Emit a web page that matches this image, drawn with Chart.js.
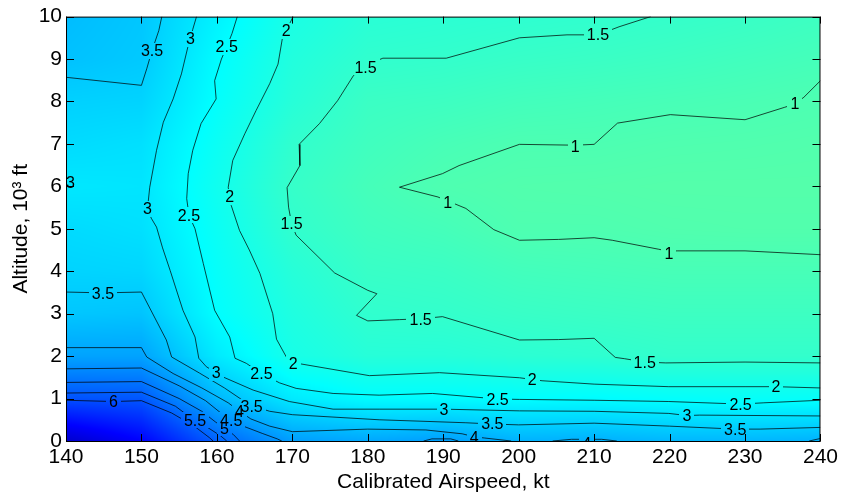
<!DOCTYPE html>
<html lang="en">
<head>
<meta charset="UTF-8">
<title>Altitude vs Calibrated Airspeed contours</title>
<script src="https://cdn.jsdelivr.net/npm/chart.js"></script>
<style>
  body { margin: 0; background: #fff; }
</style>
</head>
<body>
<canvas id="contourChart" width="842" height="496"></canvas>
<script>
// grid of the shaded field (rows = altitude 0..10, cols = airspeed 140..240)
const speeds = [140, 150, 160, 170, 180, 190, 200, 210, 220, 230, 240];
const altitudes = [0, 1, 2, 3, 4, 5, 6, 7, 8, 9, 10];
const field = [
  [8.5, 7.5, 5.6, 4.4, 4.2, 4.4, 4.0, 4.05, 3.9, 3.9, 4.0],
  [5.9, 5.8, 3.9, 2.9, 2.55, 2.55, 2.5, 2.55, 2.45, 2.4, 2.4],
  [4.3, 4.3, 2.9, 2.05, 1.75, 1.75, 1.65, 1.6, 1.5, 1.5, 1.5],
  [3.6, 3.65, 2.5, 1.9, 1.55, 1.5, 1.4, 1.35, 1.3, 1.3, 1.3],
  [3.35, 3.3, 2.4, 1.75, 1.4, 1.35, 1.2, 1.15, 1.1, 1.1, 1.1],
  [3.2, 3.1, 2.3, 1.55, 1.25, 1.15, 0.97, 0.97, 0.92, 0.9, 0.9],
  [2.95, 3.0, 2.2, 1.45, 1.15, 0.97, 0.9, 0.88, 0.85, 0.85, 0.85],
  [3.2, 3.1, 2.3, 1.55, 1.25, 1.1, 1.0, 1.0, 0.95, 0.93, 0.9],
  [3.4, 3.35, 2.45, 1.75, 1.35, 1.3, 1.2, 1.15, 1.1, 1.05, 0.99],
  [3.7, 3.55, 2.55, 1.85, 1.55, 1.5, 1.42, 1.37, 1.3, 1.22, 1.15],
  [3.8, 3.6, 2.75, 2.0, 1.7, 1.65, 1.6, 1.55, 1.48, 1.4, 1.3]
];

// contour lines, [airspeed, altitude]
const line1 = [[240,8.49],[237.8,8.1],[236.6,7.94],[235.2,7.86],[230,7.57],[220.1,7.69],[213.1,7.49],[210,6.99],[207.5,6.97],[200.1,6.99],[192.1,6.49],[189.9,6.3],[184.2,5.98],[189.3,5.75],[190.6,5.65],[191.5,5.59],[193,5.48],[196.7,4.98],[200.1,4.73],[205.3,4.75],[210,4.79],[212.4,4.73],[218.5,4.52],[219.9,4.47],[221,4.48],[230,4.48],[240,4.39]];
const line15 = [[217.5,10],[213.3,9.76],[210.5,9.57],[206.4,9.57],[200.1,9.5],[190.4,9.02],[182,9.02],[179.7,8.85],[178.1,8.61],[176,8.02],[173.6,7.48],[170.9,6.99],[171,6.49],[169.3,5.97],[169.5,5.51],[169.9,5.12],[170.5,4.85],[175.6,3.96],[180,3.55],[181.2,3.47],[178.5,2.96],[180,2.83],[184.2,2.86],[187,2.88],[189.9,2.93],[200.1,2.38],[205.3,2.39],[210,2.42],[212.8,1.97],[214,1.94],[216.7,1.86],[219.5,1.84],[230,1.86],[240,1.84]];
const line2 = [[170.1,10],[169.2,9.67],[168.7,9.51],[168.1,8.88],[167,8.42],[165.2,7.79],[163.7,7.24],[162.1,6.61],[161.5,5.98],[161.7,5.75],[161.9,5.55],[163,4.96],[164.3,4.5],[165.7,3.95],[167.4,3.0],[167.9,2.4],[169.2,1.98],[170.1,1.83],[171,1.82],[180.2,1.54],[189.5,1.61],[200.1,1.49],[201.8,1.45],[203.1,1.42],[210,1.34],[219.9,1.28],[230,1.28],[234.1,1.28],[240,1.25]];
const line25 = [[162.7,10],[162,9.6],[161.3,9.29],[160.6,9.0],[159.7,8.49],[159.9,8.06],[157.9,7.48],[156.8,6.85],[156.2,6.3],[156,5.71],[156.3,5.32],[157.1,5.0],[158.2,4.18],[159.7,3.08],[161.7,2.45],[162.4,1.95],[163.9,1.83],[165.9,1.59],[168.3,1.37],[170.5,1.24],[175.4,1.12],[181.5,1.08],[188.6,1.12],[197.2,0.99],[200.1,0.98],[210,0.96],[219.9,0.93],[229.4,0.87],[232.5,0.9],[240,0.96]];
const line3 = [[157.3,10],[156.8,9.7],[156.5,9.48],[156.2,9.32],[155.3,8.65],[154.2,8.06],[152.9,7.51],[152.0,6.85],[151.1,5.98],[150.8,5.47],[151.3,5.25],[152,5.04],[152.8,4.55],[153.8,4.02],[155.5,3.08],[157.1,2.45],[157.6,1.95],[158.6,1.75],[159.9,1.61],[160.8,1.51],[164.8,1.2],[169.6,0.93],[175.4,0.75],[181.5,0.75],[190.1,0.75],[200.1,0.71],[210,0.7],[219.9,0.65],[222.3,0.6],[224,0.61],[240,0.59]];
const line3Edge = [[140,6.28],[140.8,6.1],[140,5.92]];
const line35Top = [[140,8.57],[150,8.38],[150.7,8.77],[151.4,9.2],[152.3,9.67],[152.7,10]];
const line35 = [[140,3.51],[144.9,3.49],[150,3.51],[153.3,2.38],[154,1.98],[157.7,1.6],[161,1.25],[163.5,0.95],[164.8,0.82],[167,0.7],[170,0.62],[181.5,0.5],[193,0.43],[196.5,0.4],[200,0.38],[210,0.42],[220,0.35],[228.7,0.28],[232,0.28],[240,0.32]];
const line4 = [[140,2.2],[150,2.2],[150.7,1.98],[154.2,1.59],[158,1.25],[161.5,0.9],[163,0.7],[164.5,0.52],[167,0.35],[170,0.22],[180,0.28],[187.7,0.26],[192.5,0.17],[194.1,0.1],[195.5,0.07],[199,0]];
const line4Mid = [[204.5,0],[207,0.04],[211,0.04],[213,0]];
const line4Edge = [[238.5,0],[240,0.06]];
const line45 = [[140,1.7],[150,1.72],[155,1.3],[158.5,0.95],[160.8,0.62],[161.9,0.49],[163.5,0.35],[166,0.18],[168,0.05],[168.6,0]];
const line45Bump = [[187.4,0],[188.5,0.05],[191,0.05],[192,0]];
const line5 = [[140,1.38],[150,1.4],[155,1.0],[158,0.7],[159.8,0.45],[161,0.3],[162.2,0.15],[163,0]];
const line55 = [[140,1.13],[150,1.15],[154.5,0.82],[156,0.62],[157.1,0.49],[158.5,0.35],[160.5,0.12],[161.3,0]];
const line6 = [[140,0.96],[146.3,0.93],[150,0.95],[154,0.66],[157,0.35],[159,0.08],[159.5,0]];

// contour labels [airspeed, altitude, text]
const contourLabels = [
  [151.4, 9.2, '3.5'], [156.5, 9.48, '3'], [161.3, 9.29, '2.5'], [169.2, 9.67, '2'],
  [179.7, 8.81, '1.5'], [210.5, 9.57, '1.5'], [207.5, 6.93, '1'], [236.6, 7.94, '1'],
  [140.6, 6.1, '3'], [150.8, 5.47, '3'], [156.3, 5.32, '2.5'], [161.7, 5.75, '2'],
  [169.9, 5.12, '1.5'], [190.6, 5.61, '1'], [219.9, 4.42, '1'], [144.9, 3.47, '3.5'],
  [187, 2.86, '1.5'], [159.9, 1.61, '3'], [165.9, 1.59, '2.5'], [170.1, 1.83, '2'],
  [201.8, 1.44, '2'], [216.7, 1.84, '1.5'], [234.1, 1.28, '2'], [197.2, 0.98, '2.5'],
  [229.4, 0.86, '2.5'], [190.1, 0.75, '3'], [222.3, 0.59, '3'], [196.5, 0.4, '3.5'],
  [228.7, 0.28, '3.5'], [146.3, 0.92, '6'], [157.1, 0.49, '5.5'], [161.9, 0.49, '4.5'],
  [161, 0.3, '5'], [163, 0.69, '4'], [164.6, 0.81, '3.5'], [194.1, 0.09, '4'],
  [209, -0.05, '4']
];

const allLines = [line1, line15, line2, line25, line3, line3Edge, line35Top, line35,
  line4, line4Mid, line4Edge, line45, line45Bump, line5, line55, line6];

function jet(t) {
  const c = v => Math.round(255 * Math.min(1, Math.max(0, v)));
  return [c(1.5 - Math.abs(4 * t - 3)), c(1.5 - Math.abs(4 * t - 2)), c(1.5 - Math.abs(4 * t - 1))];
}

function cellIndex(arr, v) {
  let i = 0;
  while (i < arr.length - 2 && v > arr[i + 1]) i++;
  const f = Math.min(1, Math.max(0, (v - arr[i]) / (arr[i + 1] - arr[i])));
  return [i, f];
}

function sample(xv, yv) {
  const [i, fx] = cellIndex(speeds, xv);
  const [j, fy] = cellIndex(altitudes, yv);
  const a = field[j][i], b = field[j][i + 1], c = field[j + 1][i], d = field[j + 1][i + 1];
  return (a * (1 - fx) + b * fx) * (1 - fy) + (c * (1 - fx) + d * fx) * fy;
}

let shade = null;

const contourPlugin = {
  id: 'contourPlugin',
  beforeDatasetsDraw(chart) {
    const {ctx, chartArea: a, scales: {x, y}} = chart;
    const w = Math.round(a.right - a.left), h = Math.round(a.bottom - a.top);
    shade = document.createElement('canvas');
    shade.width = w; shade.height = h;
    const sctx = shade.getContext('2d');
    const img = sctx.createImageData(w, h);
    for (let j = 0; j < h; j++) {
      const yv = y.getValueForPixel(a.top + j + 0.5);
      for (let i = 0; i < w; i++) {
        const xv = x.getValueForPixel(a.left + i + 0.5);
        const [r, g, b] = jet(0.5 - 0.05 * sample(xv, yv));
        const k = (j * w + i) * 4;
        img.data[k] = r; img.data[k + 1] = g; img.data[k + 2] = b; img.data[k + 3] = 255;
      }
    }
    sctx.putImageData(img, 0, 0);
    ctx.drawImage(shade, a.left, a.top);
  },
  afterDatasetsDraw(chart) {
    const {ctx, chartArea: a, scales: {x, y}} = chart;
    ctx.save();
    ctx.beginPath();
    ctx.rect(a.left, a.top, a.right - a.left, a.bottom - a.top);
    ctx.clip();
    ctx.font = '16px "Liberation Sans", Arial, sans-serif';
    ctx.textAlign = 'center';
    ctx.textBaseline = 'middle';
    // knock the lines out under each label, then write it
    contourLabels.forEach(([lx, ly, txt]) => {
      const px = x.getPixelForValue(lx), py = y.getPixelForValue(ly);
      const tw = ctx.measureText(txt).width + 6, th = 16;
      const sx = px - tw / 2 - a.left, sy = py - th / 2 - a.top;
      ctx.drawImage(shade, sx, sy, tw, th, px - tw / 2, py - th / 2, tw, th);
    });
    ctx.fillStyle = '#000';
    contourLabels.forEach(([lx, ly, txt]) => {
      ctx.fillText(txt, x.getPixelForValue(lx), y.getPixelForValue(ly) + 1);
    });
    ctx.restore();

    // axes box and inward ticks on all four sides
    ctx.save();
    ctx.strokeStyle = '#000';
    ctx.lineWidth = 1;
    ctx.beginPath();
    x.ticks.forEach(t => {
      const px = Math.round(x.getPixelForValue(t.value)) + 0.5;
      ctx.moveTo(px, a.bottom); ctx.lineTo(px, a.bottom - 7);
      ctx.moveTo(px, a.top); ctx.lineTo(px, a.top + 7);
    });
    y.ticks.forEach(t => {
      const py = Math.round(y.getPixelForValue(t.value)) + 0.5;
      ctx.moveTo(a.left, py); ctx.lineTo(a.left + 8, py);
      ctx.moveTo(a.right, py); ctx.lineTo(a.right - 8, py);
    });
    ctx.stroke();
    ctx.strokeRect(a.left + 0.5, a.top + 0.5, a.right - a.left - 1, a.bottom - a.top);
    ctx.restore();
  }
};

Chart.defaults.font.family = '"Liberation Sans", Arial, sans-serif';
Chart.defaults.color = '#000';

const ctx = document.getElementById('contourChart').getContext('2d');
new Chart(ctx, {
  type: 'scatter',
  data: {
    datasets: allLines.map(pts => ({
      data: pts.map(([sx, sy]) => ({x: sx, y: sy})),
      showLine: true,
      borderColor: 'rgba(0, 0, 0, 0.72)',
      borderWidth: 1,
      pointRadius: 0,
      tension: 0,
      fill: false
    }))
  },
  options: {
    responsive: false,
    animation: false,
    events: [],
    layout: { padding: { top: 16, right: 19, left: 0, bottom: 0 } },
    plugins: { legend: { display: false }, tooltip: { enabled: false } },
    scales: {
      x: {
        type: 'linear',
        min: 140, max: 240,
        grid: { display: false, drawTicks: false },
        border: { display: false },
        ticks: { stepSize: 10, font: { size: 21 }, padding: 4, maxRotation: 0 },
        title: { display: true, text: 'Calibrated Airspeed, kt', font: { size: 21 }, padding: { top: 0, bottom: 1 } },
        afterFit: s => { s.height = 55; }
      },
      y: {
        type: 'linear',
        min: 0, max: 10,
        grid: { display: false, drawTicks: false },
        border: { display: false },
        ticks: { stepSize: 1, font: { size: 21 }, padding: 4 },
        title: { display: true, text: 'Altitude, 10³ ft', font: { size: 21 }, padding: { top: 9, bottom: 0 } },
        afterFit: s => { s.width = 66; }
      }
    }
  },
  plugins: [contourPlugin]
});
</script>
</body>
</html>
